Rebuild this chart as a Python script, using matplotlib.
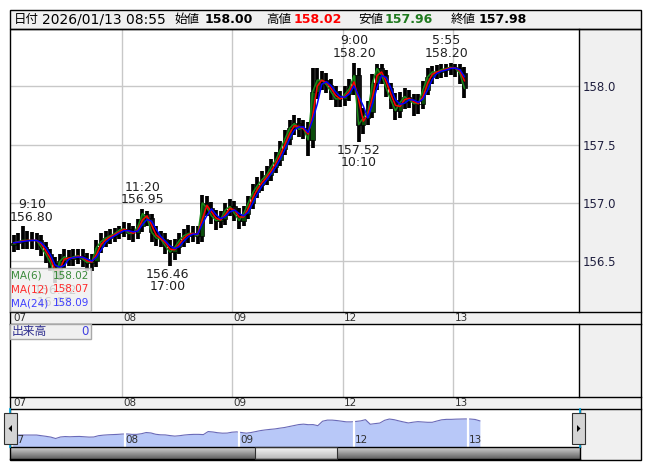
import numpy as np
import pandas as pd
import matplotlib
matplotlib.use("Agg")
import matplotlib.pyplot as plt
from matplotlib.patches import Rectangle, Polygon
from matplotlib.transforms import blended_transform_factory, offset_copy

plt.rcParams['font.family'] = ['DejaVu Sans', 'Noto Sans CJK JP']

# hourly bars, 2026/01/07 07:00 -> 2026/01/13 08:55 (bar index in hours)
close = [156.66, 156.67, 156.68, 156.68, 156.68, 156.68, 156.62, 156.56, 156.49, 156.36,
         156.50, 156.54, 156.52, 156.54, 156.55, 156.52, 156.49, 156.50, 156.62, 156.67,
         156.70, 156.72, 156.74, 156.77, 156.78, 156.74, 156.74, 156.80, 156.91, 156.87,
         156.75, 156.70, 156.69, 156.63, 156.58, 156.62, 156.68, 156.72, 156.74, 156.74,
         156.72, 157.00, 156.96, 156.89, 156.85, 156.86, 156.94, 156.97, 156.91, 156.85,
         156.91, 157.00, 157.09, 157.15, 157.20, 157.24, 157.31, 157.37, 157.46, 157.55,
         157.64, 157.68, 157.63, 157.64, 157.54, 157.95, 158.05, 158.05, 158.01, 157.95,
         157.89, 157.89, 157.93, 157.98, 158.09, 157.67, 157.73, 157.78, 158.03, 158.15,
         158.09, 157.98, 157.88, 157.79, 157.86, 157.91, 157.88, 157.85, 157.85, 157.97,
         158.08, 158.12, 158.12, 158.14, 158.15, 158.16, 158.15, 158.11, 157.98]
high = [156.73, 156.74, 156.80, 156.76, 156.75, 156.74, 156.73, 156.67, 156.61, 156.54,
        156.56, 156.61, 156.60, 156.61, 156.61, 156.61, 156.57, 156.56, 156.68, 156.74,
        156.76, 156.78, 156.79, 156.80, 156.84, 156.83, 156.80, 156.86, 156.95, 156.93,
        156.91, 156.80, 156.76, 156.74, 156.68, 156.69, 156.74, 156.78, 156.81, 156.80,
        156.80, 157.07, 157.06, 157.01, 156.94, 156.93, 157.00, 157.03, 157.02, 156.96,
        156.97, 157.06, 157.16, 157.22, 157.27, 157.32, 157.38, 157.44, 157.53, 157.62,
        157.71, 157.75, 157.73, 157.71, 157.69, 158.15, 158.15, 158.13, 158.11, 158.06,
        158.00, 157.96, 158.00, 158.06, 158.20, 158.15, 157.81, 157.87, 158.10, 158.19,
        158.19, 158.14, 158.03, 157.94, 157.95, 157.98, 157.97, 157.93, 157.93, 158.04,
        158.15, 158.17, 158.18, 158.19, 158.19, 158.20, 158.19, 158.19, 158.16]
low = [156.58, 156.60, 156.61, 156.61, 156.61, 156.60, 156.55, 156.49, 156.42, 156.32,
       156.34, 156.44, 156.46, 156.46, 156.48, 156.45, 156.42, 156.42, 156.45, 156.57,
       156.62, 156.65, 156.67, 156.69, 156.71, 156.68, 156.67, 156.69, 156.75, 156.80,
       156.67, 156.63, 156.62, 156.56, 156.46, 156.51, 156.56, 156.62, 156.66, 156.67,
       156.65, 156.67, 156.89, 156.82, 156.77, 156.79, 156.81, 156.89, 156.85, 156.78,
       156.80, 156.86, 156.95, 157.04, 157.10, 157.15, 157.19, 157.26, 157.32, 157.41,
       157.50, 157.58, 157.56, 157.55, 157.40, 157.47, 157.89, 157.97, 157.94, 157.88,
       157.82, 157.82, 157.83, 157.87, 157.92, 157.52, 157.59, 157.67, 157.73, 157.97,
       158.02, 157.91, 157.80, 157.71, 157.73, 157.80, 157.81, 157.74, 157.76, 157.80,
       157.92, 158.02, 158.06, 158.07, 158.08, 158.09, 158.08, 158.02, 157.90]
first_open = 156.64

day_labels = ['07', '08', '09', '12', '13']
day_starts = [-0.5, 23.5, 47.5, 71.5, 95.5]
price_ticks = [156.5, 157.0, 157.5, 158.0]

# (bar, price, text, above?)
marks = [(2, 156.80, '9:10\n156.80', True),
         (28, 156.95, '11:20\n156.95', True),
         (74, 158.20, '9:00\n158.20', True),
         (94, 158.20, '5:55\n158.20', True),
         (9, 156.32, '156.32\n16:05', False),
         (33.5, 156.46, '156.46\n17:00', False),
         (75, 157.52, '157.52\n10:10', False)]

ma_names = ['MA(6)', 'MA(12)', 'MA(24)']
ma_last = ['158.02', '158.07', '158.09']
ma_colors = ['#3a8a3a', '#ff2a2a', '#4040ff']

header = [('日付', '2026/01/13 08:55'), ('始値', '158.00'), ('高値', '158.02'),
          ('安値', '157.96'), ('終値', '157.98')]

t = np.arange(len(close))
c = pd.Series(close)
o = np.r_[first_open, close[:-1]]
ma6 = c                       # 30 min window ~ the hourly close itself
ma12 = c.rolling(2, min_periods=1).mean()
ma24 = c.rolling(3, min_periods=1).mean()

W, H = 653, 470
fig = plt.figure(figsize=(6.53, 4.70), dpi=100)


def box(x0, y0, x1, y1):
    return [x0 / W, 1 - y1 / H, (x1 - x0) / W, (y1 - y0) / H]


GRAY = '#f0f0f0'
GRID = '#c8c8c8'

# background layer in pixel coords
bg = fig.add_axes([0, 0, 1, 1])
bg.set_xlim(0, W)
bg.set_ylim(H, 0)
bg.axis('off')
bg.add_patch(Rectangle((10, 10), 631, 19, fc=GRAY, ec='none'))
bg.add_patch(Rectangle((579, 29), 62, 431, fc=GRAY, ec='none'))
bg.add_patch(Rectangle((10, 312), 631, 12, fc=GRAY, ec='none'))
bg.add_patch(Rectangle((10, 397), 631, 12, fc=GRAY, ec='none'))

# main price panel
ax = fig.add_axes(box(10, 30, 579, 312))
ax.set_xlim(-0.8, 122.9)
ax.set_ylim(156.068, 158.479)
for p in price_ticks:
    ax.axhline(p, color=GRID, lw=1, zorder=0)
for d in day_starts[1:]:
    ax.axvline(d, color=GRID, lw=1, zorder=0)
ax.vlines(t, low, high, color='black', lw=2.7, zorder=2)
up = np.array(close) >= o
ax.bar(t, np.array(close) - o, bottom=o, width=0.95,
       color=np.where(up, '#0b4d0b', '#111111'), edgecolor='black', lw=0.5, zorder=2)
ax.plot(t, ma6, color='#1a8a1a', lw=1.1, zorder=3)
ax.plot(t, ma12, color='#ff0000', lw=1.1, zorder=3)
ax.plot(t, ma24, color='#0000ff', lw=1.1, zorder=3)
x_left = ax.get_xlim()[0]
for bar, price, txt, above in marks:
    ha, xx = ('left', x_left) if bar < 4 else ('center', bar)
    ax.annotate(txt, (xx, price), xytext=(0, 2 if above else -1), textcoords='offset points',
                ha=ha, multialignment='center', va='bottom' if above else 'top', fontsize=9,
                linespacing=0.95, color='#202020', zorder=4)
ax.set_xticks([])
ax.yaxis.tick_right()
ax.set_yticks(price_ticks)
ax.set_yticklabels([f'{p:.1f}' for p in price_ticks])
ax.tick_params(axis='y', length=0, pad=3, labelsize=8.5, labelcolor='#1f1f3f')
for s in ax.spines.values():
    s.set_visible(False)
tr = offset_copy(blended_transform_factory(ax.transData, ax.transAxes), fig=fig, x=1.5, y=0, units='dots')
for d, lab in zip(day_starts, day_labels):
    ax.text(d, -0.004, lab, transform=tr, ha='left', va='top', fontsize=7.5,
            color='#303030', clip_on=False)

# volume panel (no volume for FX)
vax = fig.add_axes(box(10, 324, 579, 397))
vax.set_xlim(-0.8, 122.9)
vax.set_ylim(0, 1)
for d in day_starts[1:]:
    vax.axvline(d, color=GRID, lw=1, zorder=0)
vax.set_xticks([])
vax.set_yticks([])
for s in vax.spines.values():
    s.set_visible(False)
trv = offset_copy(blended_transform_factory(vax.transData, vax.transAxes), fig=fig, x=1.5, y=0, units='dots')
for d, lab in zip(day_starts, day_labels):
    vax.text(d, -0.01, lab, transform=trv, ha='left', va='top', fontsize=7.5,
             color='#303030', clip_on=False)

# navigator
nax = fig.add_axes(box(10, 410, 580, 447))
nax.set_xlim(-0.57, 119.0)
nax.set_ylim(155.58, 158.98)
nax.fill_between(t, close, 155.58, color='#b8c8f8', lw=0)
nax.plot(t, close, color='#6a6ab8', lw=0.8)
for d in day_starts[1:]:
    nax.axvline(d, color='white', lw=1.6)
trn = offset_copy(blended_transform_factory(nax.transData, nax.transAxes), fig=fig, x=1, y=0, units='dots')
for d, lab in zip(day_starts, day_labels):
    nax.text(d, 0.06, lab, transform=trn, ha='left', va='bottom', fontsize=7.5, color='#303030')
nax.set_xticks([])
nax.set_yticks([])
for s in nax.spines.values():
    s.set_visible(False)

# foreground: frames, legends, header, scrollbar
fg = fig.add_axes([0, 0, 1, 1])
fg.patch.set_alpha(0)
fg.axis('off')

grad = np.linspace(0.82, 0.38, 20)[:, None]
fg.imshow(grad, extent=(10, 580, 459, 447), cmap='gray', vmin=0, vmax=1, aspect='auto', zorder=1)
thumb = np.linspace(0.97, 0.72, 20)[:, None]
fg.imshow(thumb, extent=(255, 337, 459, 447), cmap='gray', vmin=0, vmax=1, aspect='auto', zorder=2)
fg.add_patch(Rectangle((255, 447), 82, 12, fc='none', ec='#303030', lw=0.8, zorder=3))

fg.set_xlim(0, W)
fg.set_ylim(H, 0)

for y in [312, 324, 397, 409]:
    fg.plot([10, 641], [y, y], color='black', lw=1)
fg.plot([10, 580], [447, 447], color='black', lw=1)
fg.plot([10, 580], [459, 459], color='black', lw=1)
fg.plot([579, 579], [29, 312], color='black', lw=1)
fg.plot([579, 579], [324, 397], color='black', lw=1)
fg.plot([580, 580], [409, 459], color='black', lw=1)
fg.add_patch(Rectangle((10, 10), 631, 19, fc='none', ec='black', lw=1))
fg.add_patch(Rectangle((10, 29), 631, 431, fc='none', ec='black', lw=1))
for x in [10, 580]:
    fg.plot([x, x], [409, 413], color='#00b0e8', lw=1.2)
    fg.plot([x, x], [443, 447], color='#00b0e8', lw=1.2)

# scroll buttons
for x0, pts in [(4, [(8.5, 428.5), (12, 425), (12, 432)]),
                (572, [(580.5, 428.5), (577, 425), (577, 432)])]:
    fg.add_patch(Rectangle((x0, 413), 13, 31, fc='#d4d4d4', ec='#303030', lw=0.8, zorder=4))
    fg.add_patch(Polygon(pts, closed=True, fc='black', ec='none', zorder=5))

# MA legend
fg.add_patch(Rectangle((10, 268), 81, 43, fc=GRAY, ec='#a8a8a8', lw=1, alpha=0.85, zorder=4))
for i, (nm, val, col) in enumerate(zip(ma_names, ma_last, ma_colors)):
    y = 276 + 13.5 * i
    fg.text(11.5, y, nm, color=col, fontsize=7.5, va='center', ha='left', zorder=5)
    fg.text(89.5, y, val, color=col, fontsize=7.5, va='center', ha='right', zorder=5)

# volume legend
fg.add_patch(Rectangle((10, 324), 81, 15, fc=GRAY, ec='#a8a8a8', lw=1, zorder=4))
fg.text(12, 331.5, '出来高', color='#303090', fontsize=8.5, va='center', ha='left', zorder=5)
fg.text(89, 331.5, '0', color='#4040e0', fontsize=8.5, va='center', ha='right', zorder=5)

# header values
label_x = [14, 174, 266, 358, 451]
value_x = [42, 205, 294, 385, 479]
value_colors = ['black', 'black', '#ff0000', '#1f7a1f', 'black']
for i, ((lab, val), lx, vx, col) in enumerate(zip(header, label_x, value_x, value_colors)):
    fg.text(lx, 19.5, lab, fontsize=9, va='center', ha='left', color='black')
    fg.text(vx, 19.5, val, fontsize=10 if i == 0 else 9, va='center', ha='left',
            color=col, fontweight='normal' if i == 0 else 'bold')

fig.savefig('out.png', dpi=100)
